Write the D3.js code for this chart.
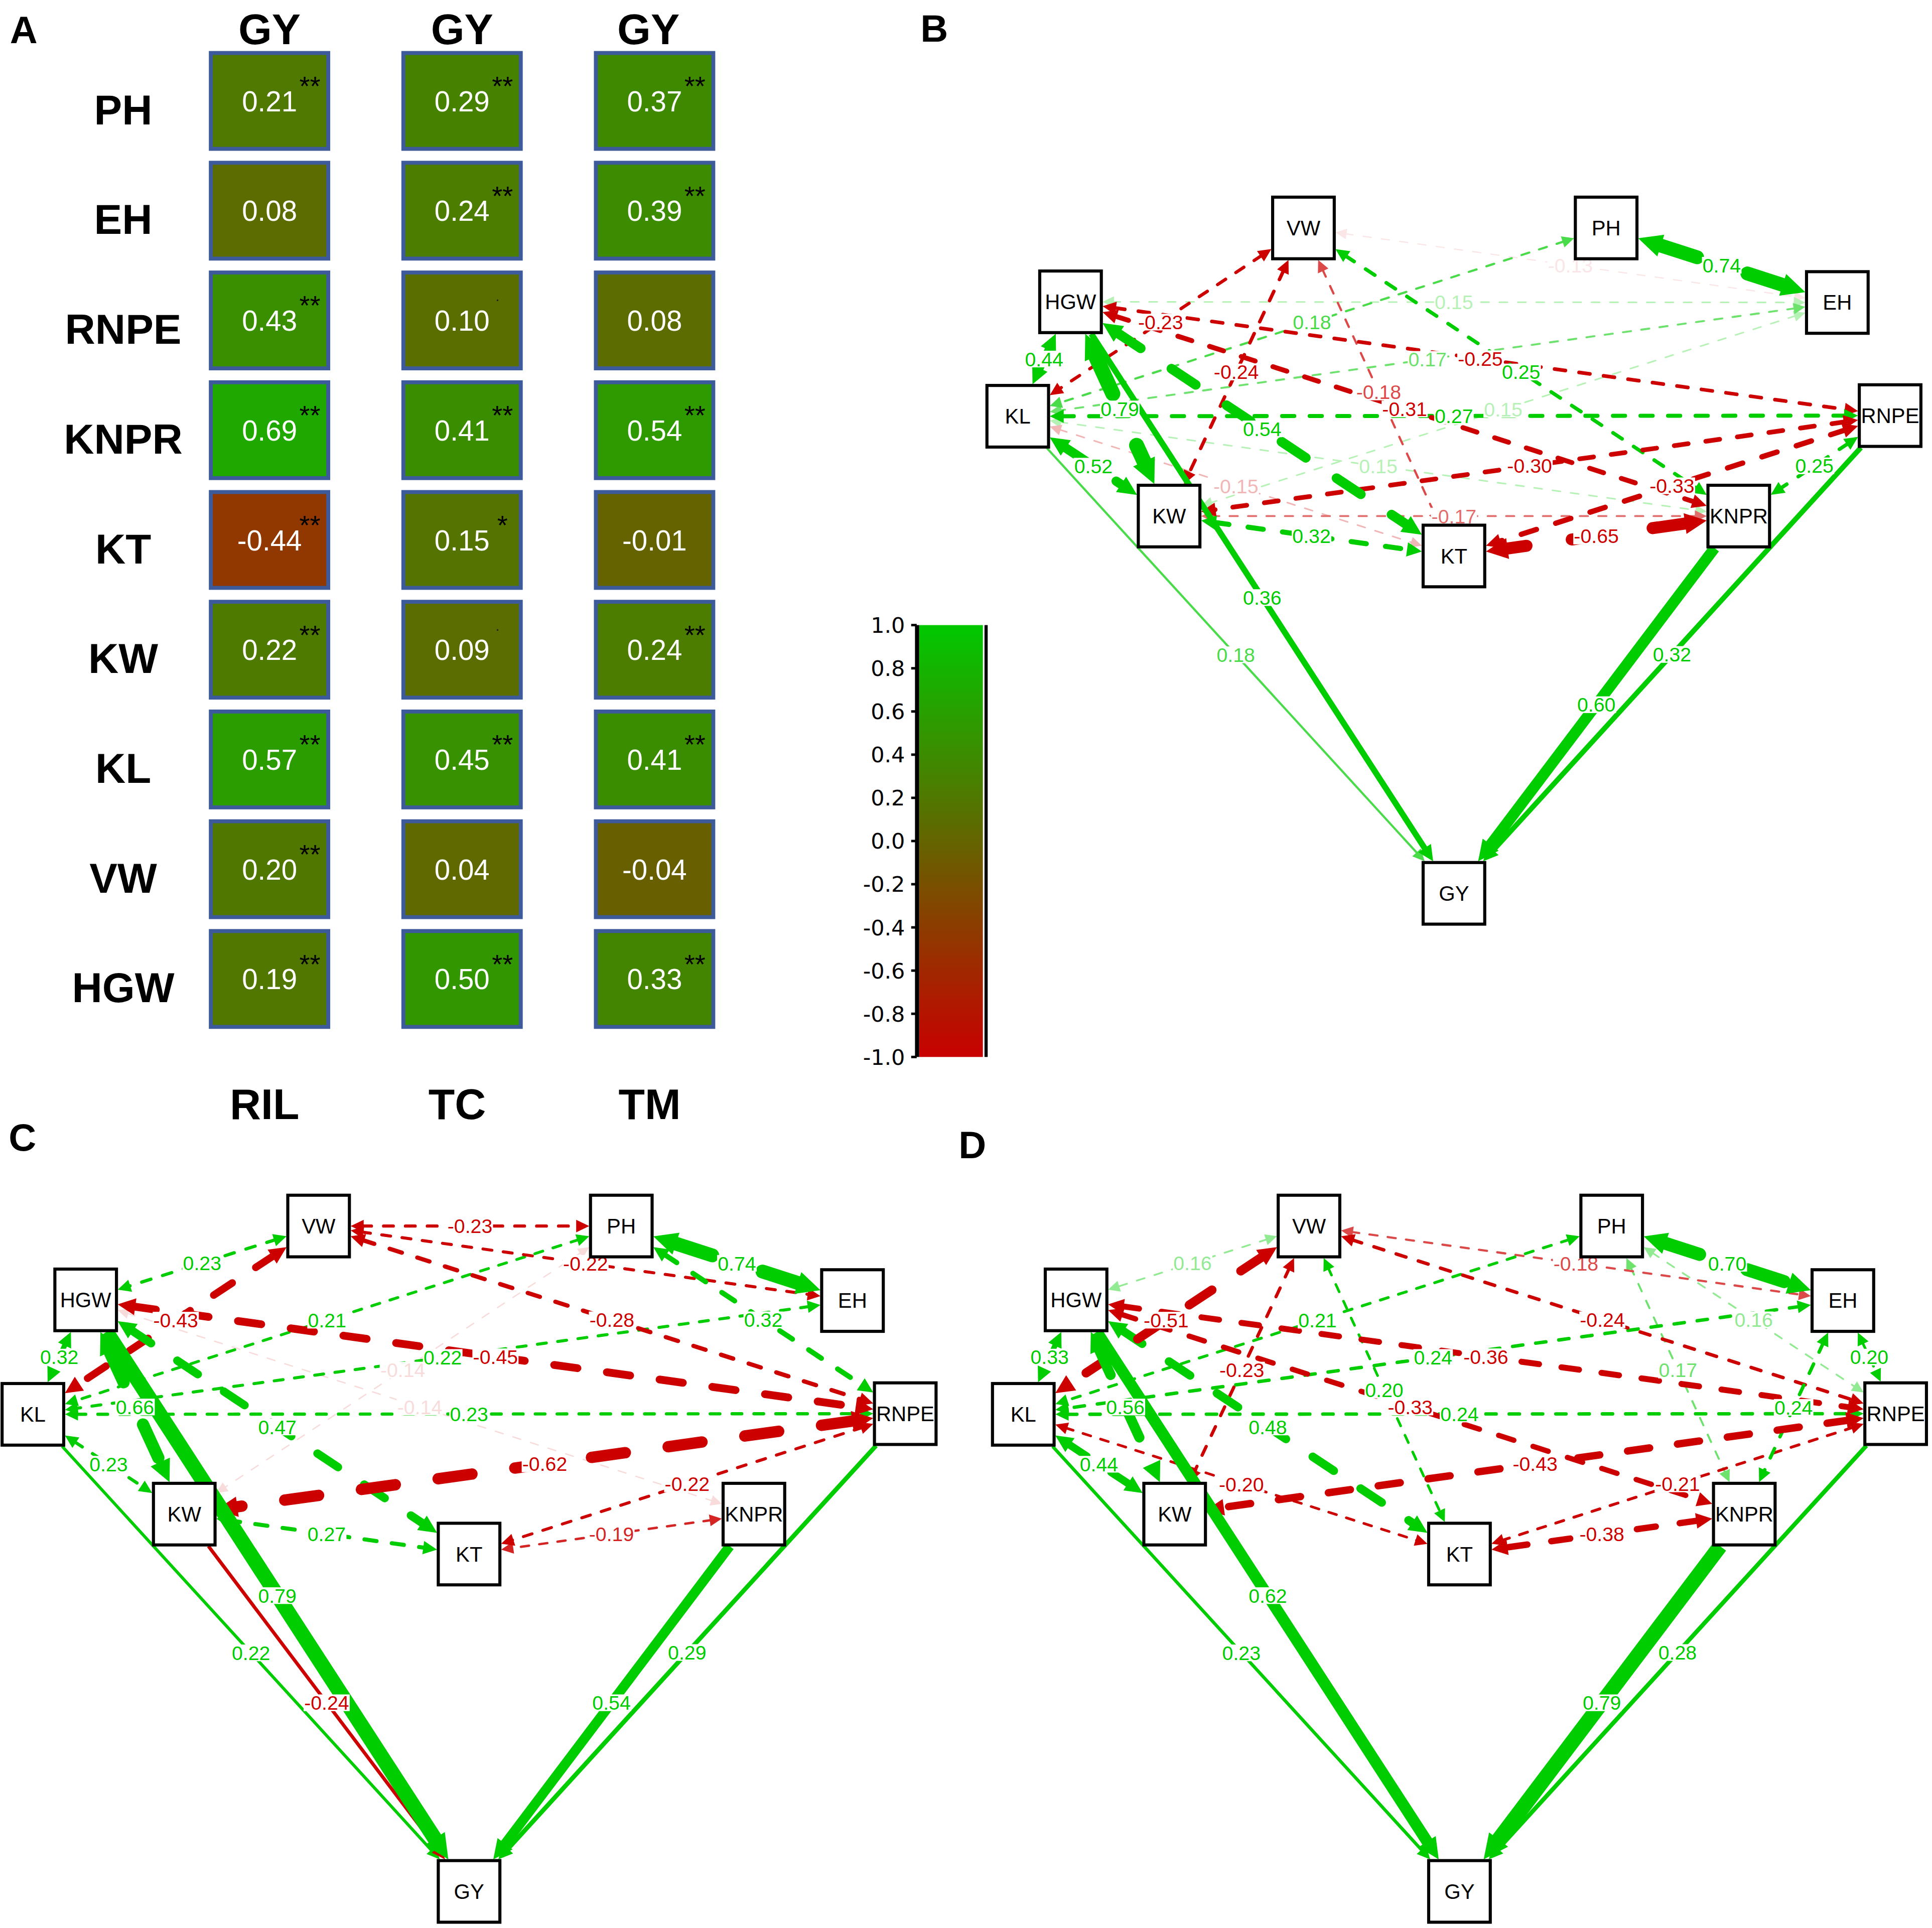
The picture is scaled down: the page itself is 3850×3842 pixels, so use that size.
<!DOCTYPE html>
<html>
<head>
<meta charset="utf-8">
<title>Trait correlations and path diagrams for grain yield</title>
<script src="https://cdn.jsdelivr.net/npm/d3@7/dist/d3.min.js"></script>
<style>
  html, body { margin: 0; padding: 0; background: #fff; }
  svg { display: block; }
</style>
</head>
<body>
<script>
// ---------- panel A data: correlation of each trait with GY ----------
const traits = ["PH", "EH", "RNPE", "KNPR", "KT", "KW", "KL", "VW", "HGW"];
const populations = ["RIL", "TC", "TM"];
const corrRIL = [0.21, 0.08, 0.43, 0.69, -0.44, 0.22, 0.57, 0.20, 0.19];
const corrTC  = [0.29, 0.24, 0.10, 0.41, 0.15, 0.09, 0.45, 0.04, 0.50];
const corrTM  = [0.37, 0.39, 0.08, 0.54, -0.01, 0.24, 0.41, -0.04, 0.33];
const sigRIL = ["**", "", "**", "**", "**", "**", "**", "**", "**"];
const sigTC  = ["**", "**", ".", "**", "*", ".", "**", "", "**"];
const sigTM  = ["**", "**", "", "**", "", "**", "**", "", "**"];
const colorbarTicks = [1.0, 0.8, 0.6, 0.4, 0.2, 0.0, -0.2, -0.4, -0.6, -0.8, -1.0];

// ---------- path diagrams (B = RIL, C = TC, D = TM) ----------
// layout of the nodes in abstract layout units (same layout in all three panels)
const nodeNames   = ["VW", "PH", "HGW", "EH", "KL", "RNPE", "KW", "KNPR", "KT", "GY"];
const nodeLayoutX = [-0.345, 0.349, -0.879, 0.879, -1, 1, -0.653, 0.653, 0, 0];
const nodeLayoutY = [0, 0, 0.111, 0.112, 0.283, 0.282, 0.433, 0.433, 0.493, 1];

// covariances between traits (dashed, double headed)
const covB = [
  ["PH", "EH", 0.74], ["VW", "EH", -0.13], ["HGW", "EH", 0.15], ["PH", "KL", 0.18],
  ["EH", "KL", 0.17], ["EH", "KW", 0.15], ["VW", "KL", -0.23], ["HGW", "KL", 0.44],
  ["VW", "KW", -0.24], ["VW", "KT", -0.18], ["HGW", "KNPR", -0.31], ["KL", "RNPE", 0.27],
  ["HGW", "KW", 0.79], ["HGW", "KT", 0.54], ["KL", "KW", 0.52], ["KL", "KNPR", 0.15],
  ["KL", "KT", -0.15], ["KW", "KT", 0.32], ["KW", "KNPR", -0.17], ["HGW", "RNPE", -0.25],
  ["VW", "KNPR", 0.25], ["RNPE", "KW", -0.30], ["RNPE", "KT", -0.33], ["RNPE", "KNPR", 0.25],
  ["KNPR", "KT", -0.65]
];
const covC = [
  ["VW", "HGW", 0.23], ["VW", "KL", -0.43], ["PH", "KL", 0.21], ["HGW", "KL", 0.32],
  ["HGW", "KW", 0.66], ["HGW", "KT", 0.47], ["KL", "KW", 0.23], ["KW", "KT", 0.27],
  ["PH", "KW", -0.14], ["HGW", "KNPR", -0.14], ["KL", "RNPE", 0.23], ["EH", "KL", 0.22],
  ["VW", "PH", -0.23], ["VW", "EH", -0.22], ["VW", "RNPE", -0.28], ["PH", "EH", 0.74],
  ["PH", "RNPE", 0.32], ["HGW", "RNPE", -0.45], ["RNPE", "KW", -0.62], ["RNPE", "KT", -0.22],
  ["KNPR", "KT", -0.19]
];
const covD = [
  ["VW", "HGW", 0.16], ["VW", "KL", -0.51], ["PH", "KL", 0.21], ["HGW", "KL", 0.33],
  ["VW", "KW", -0.23], ["HGW", "KW", 0.56], ["HGW", "KT", 0.48], ["KL", "KW", 0.44],
  ["KL", "KT", -0.20], ["VW", "KT", 0.20], ["HGW", "KNPR", -0.33], ["KL", "RNPE", 0.24],
  ["EH", "KL", 0.24], ["HGW", "RNPE", -0.36], ["VW", "EH", -0.18], ["PH", "EH", 0.70],
  ["VW", "RNPE", -0.24], ["PH", "RNPE", 0.16], ["PH", "KNPR", 0.17], ["EH", "RNPE", 0.20],
  ["EH", "KNPR", 0.24], ["RNPE", "KW", -0.43], ["RNPE", "KT", -0.21], ["KNPR", "KT", -0.38]
];
// direct paths to grain yield (solid)
const pathB = [["KL", 0.18], ["HGW", 0.36], ["KNPR", 0.60], ["RNPE", 0.32]];
const pathC = [["KL", 0.22], ["HGW", 0.79], ["KW", -0.24], ["KNPR", 0.54], ["RNPE", 0.29]];
const pathD = [["KL", 0.23], ["HGW", 0.62], ["KNPR", 0.79], ["RNPE", 0.28]];

// ---------- drawing ----------
const FONT = "'Liberation Sans', Arial, Helvetica, sans-serif";
const fmt2 = (v) => v.toFixed(2);   // plain hyphen minus, as in the figure
const fmt1 = (v) => v.toFixed(1);

const svg = d3.select("body").append("svg")
  .attr("width", 3850)
  .attr("height", 3842)
  .attr("viewBox", "0 0 1568 1564.7")
  .attr("preserveAspectRatio", "none")
  .attr("font-family", FONT);

svg.append("rect").attr("width", 1568).attr("height", 1564.7).attr("fill", "#fff");

const color = d3.scaleLinear()
  .domain([-1, 1])
  .range(["rgb(200,0,0)", "rgb(0,200,0)"])
  .interpolate(d3.interpolateRgb);

// panel letters
svg.append("g")
  .attr("font-weight", "bold")
  .attr("font-size", 31)
  .selectAll("text")
  .data([["A", 8, 35], ["B", 747, 34], ["C", 7, 934], ["D", 778, 940]])
  .join("text")
  .attr("x", (d) => d[1])
  .attr("y", (d) => d[2])
  .text((d) => d[0]);

// ----- panel A -----
const colX = d3.scaleBand().domain(populations).range([169.5, 580.5]).paddingInner(0.3696);
const rowY = d3.scaleBand().domain(traits).range([41.4, 835]).paddingInner(0.0907);
const corrs = [corrRIL, corrTC, corrTM];
const sigs = [sigRIL, sigTC, sigTM];

const cells = [];
populations.forEach((p, i) =>
  traits.forEach((t, j) => cells.push({ p, t, v: corrs[i][j], s: sigs[i][j] }))
);

const gA = svg.append("g");

gA.append("g")
  .attr("font-weight", "bold")
  .attr("font-size", 35)
  .attr("text-anchor", "middle")
  .selectAll("text")
  .data(populations)
  .join("text")
  .attr("x", (p) => colX(p) + colX.bandwidth() / 2 - (p === "TM" ? 5 : 0))
  .attr("y", 36)
  .text("GY");

gA.append("g")
  .attr("font-weight", "bold")
  .attr("font-size", 35)
  .attr("text-anchor", "middle")
  .selectAll("text")
  .data(populations)
  .join("text")
  .attr("x", (p) => colX(p) + colX.bandwidth() / 2 - 4)
  .attr("y", 908)
  .text((p) => p);

gA.append("g")
  .attr("font-weight", "bold")
  .attr("font-size", 34)
  .attr("text-anchor", "middle")
  .selectAll("text")
  .data(traits)
  .join("text")
  .attr("x", 100)
  .attr("y", (t) => rowY(t) + rowY.bandwidth() / 2 + 19)
  .text((t) => t);

const cell = gA.append("g")
  .selectAll("g")
  .data(cells)
  .join("g")
  .attr("transform", (d) => `translate(${colX(d.p)},${rowY(d.t)})`);

cell.append("rect")
  .attr("x", 1.6)
  .attr("y", 1.6)
  .attr("width", colX.bandwidth() - 3.2)
  .attr("height", rowY.bandwidth() - 3.2)
  .attr("fill", (d) => color(d.v))
  .attr("stroke", "#3d5b9b")
  .attr("stroke-width", 3.2);

cell.append("text")
  .attr("x", colX.bandwidth() / 2)
  .attr("y", rowY.bandwidth() / 2 + 8.4)
  .attr("text-anchor", "middle")
  .attr("font-size", 23)
  .attr("fill", "#fff")
  .text((d) => fmt2(d.v));

cell.filter((d) => d.s === "*" || d.s === "**")
  .append("text")
  .attr("x", 82)
  .attr("y", 36)
  .attr("text-anchor", "middle")
  .attr("font-size", 22)
  .attr("fill", "#000")
  .text((d) => d.s);

cell.filter((d) => d.s === ".")
  .append("text")
  .attr("x", 78)
  .attr("y", 25)
  .attr("text-anchor", "middle")
  .attr("font-size", 12)
  .attr("fill", "#222")
  .text(".");

// ----- colour bar -----
const cbY = d3.scaleLinear().domain([-1, 1]).range([857.8, 507.3]);
const grad = svg.append("defs").append("linearGradient")
  .attr("id", "cbgrad")
  .attr("x1", 0).attr("y1", 1).attr("x2", 0).attr("y2", 0);
grad.selectAll("stop")
  .data(d3.range(0, 1.0001, 0.1))
  .join("stop")
  .attr("offset", (d) => d)
  .attr("stop-color", (d) => color(d * 2 - 1));

const gCb = svg.append("g");
gCb.append("rect")
  .attr("x", 746).attr("y", cbY(1))
  .attr("width", 51.7).attr("height", cbY(-1) - cbY(1))
  .attr("fill", "url(#cbgrad)");
gCb.append("rect")
  .attr("x", 742.6).attr("y", cbY(1))
  .attr("width", 3.4).attr("height", cbY(-1) - cbY(1))
  .attr("fill", "#000");
gCb.append("rect")
  .attr("x", 799).attr("y", cbY(1))
  .attr("width", 2.6).attr("height", cbY(-1) - cbY(1))
  .attr("fill", "#000");
gCb.append("g")
  .selectAll("line")
  .data(colorbarTicks)
  .join("line")
  .attr("x1", 739.5).attr("x2", 744)
  .attr("y1", (d) => cbY(d)).attr("y2", (d) => cbY(d))
  .attr("stroke", "#000").attr("stroke-width", 2);
gCb.append("g")
  .attr("font-family", "'DejaVu Sans', Verdana, sans-serif")
  .attr("font-size", 17.5)
  .attr("text-anchor", "end")
  .selectAll("text")
  .data(colorbarTicks)
  .join("text")
  .attr("x", 734.5)
  .attr("y", (d) => cbY(d) + 6.3)
  .text((d) => fmt1(d));

// ----- path diagrams -----
const netX = d3.scaleLinear().domain([-1, 1]).range([826, 1534]);
const netY = d3.scaleLinear().domain([0, 1]).range([185, 725]);
const posCol = "#00cd00";
const negCol = "#cd0000";
const HALF = 26;

const fade = (v) => Math.max(0.1, Math.min(1, (Math.abs(v) - 0.13) / 0.07));
const edgeColor = (v) => d3.interpolateRgb("#ffffff", v > 0 ? posCol : negCol)(fade(v));
const edgeWidth = (v) => Math.max(1, 17 * Math.abs(v) - 1.3);

function boxPoint(c, ux, uy) {
  const t = Math.min(HALF / Math.max(Math.abs(ux), 1e-9), HALF / Math.max(Math.abs(uy), 1e-9));
  return [c[0] + ux * t, c[1] + uy * t];
}

function arrowHead(tip, ux, uy, len) {
  const hw = 0.48 * len;
  const bx = tip[0] - ux * len, by = tip[1] - uy * len;
  return `M${tip[0]},${tip[1]}L${bx - uy * hw},${by + ux * hw}L${bx + uy * hw},${by - ux * hw}Z`;
}

function drawNetwork(g, cov, paths) {
  const pos = new Map(nodeNames.map((n, i) => [n, [netX(nodeLayoutX[i]), netY(nodeLayoutY[i])]]));
  const edges = cov.map(([a, b, v]) => ({ a, b, v, both: true }))
    .concat(paths.map(([a, v]) => ({ a, b: "GY", v, both: false })))
    .sort((p, q) => Math.abs(p.v) - Math.abs(q.v));

  edges.forEach((e) => {
    const A = pos.get(e.a), B = pos.get(e.b);
    const dx = B[0] - A[0], dy = B[1] - A[1];
    const L = Math.hypot(dx, dy);
    const ux = dx / L, uy = dy / L;
    e.p0 = boxPoint(A, ux, uy);
    e.p1 = boxPoint(B, -ux, -uy);
    e.ux = ux; e.uy = uy;
    e.w = edgeWidth(e.v);
    e.len = 8 + 1.0 * e.w;
    e.col = edgeColor(e.v);
    e.mid = [(A[0] + B[0]) / 2, (A[1] + B[1]) / 2];
  });

  const eg = g.append("g").selectAll("g").data(edges).join("g");

  eg.append("line")
    .attr("x1", (e) => e.p0[0] + (e.both ? e.ux * e.len * 0.85 : 0))
    .attr("y1", (e) => e.p0[1] + (e.both ? e.uy * e.len * 0.85 : 0))
    .attr("x2", (e) => e.p1[0] - e.ux * e.len * 0.85)
    .attr("y2", (e) => e.p1[1] - e.uy * e.len * 0.85)
    .attr("stroke", (e) => e.col)
    .attr("stroke-width", (e) => e.w)
    .attr("stroke-linecap", (e) => (e.both ? "round" : "butt"))
    .attr("stroke-dasharray", (e) => {
      if (!e.both) return null;
      const u = Math.max(e.w, 2.2);
      return `${3 * u},${3.8 * u}`;
    });

  eg.append("path")
    .attr("d", (e) => arrowHead(e.p1, e.ux, e.uy, e.len))
    .attr("fill", (e) => e.col);

  eg.filter((e) => e.both)
    .append("path")
    .attr("d", (e) => arrowHead(e.p0, -e.ux, -e.uy, e.len))
    .attr("fill", (e) => e.col);

  // edge labels on top of all edges
  const fs = 16;
  const lg = g.append("g").selectAll("g").data(edges).join("g");
  const lbRect = lg.append("rect").attr("fill", "#fff");
  const lbText = lg.append("text")
    .attr("x", (e) => e.mid[0])
    .attr("y", (e) => e.mid[1] + 0.36 * fs)
    .attr("text-anchor", "middle")
    .attr("font-size", fs)
    .attr("fill", (e) => e.col)
    .text((e) => fmt2(e.v));
  lbText.each(function (e) { e.tw = this.getComputedTextLength(); });
  lbRect
    .attr("x", (e) => e.mid[0] - e.tw / 2 - 0.5)
    .attr("y", (e) => e.mid[1] - 0.36 * fs - 1)
    .attr("width", (e) => e.tw + 1)
    .attr("height", 0.72 * fs + 2);

  // nodes
  const ng = g.append("g").selectAll("g").data(nodeNames).join("g")
    .attr("transform", (n) => `translate(${pos.get(n)[0]},${pos.get(n)[1]})`);
  ng.append("rect")
    .attr("x", -25).attr("y", -25)
    .attr("width", 50).attr("height", 50)
    .attr("fill", "#fff")
    .attr("stroke", "#000")
    .attr("stroke-width", 2.5);
  ng.append("text")
    .attr("y", 6)
    .attr("text-anchor", "middle")
    .attr("font-size", 17)
    .attr("fill", "#000")
    .text((n) => n);
}

drawNetwork(svg.append("g"), covB, pathB);
drawNetwork(svg.append("g").attr("transform", "translate(-799.3,810)"), covC, pathC);
drawNetwork(svg.append("g").attr("transform", "translate(4.5,810)"), covD, pathD);
</script>
</body>
</html>
